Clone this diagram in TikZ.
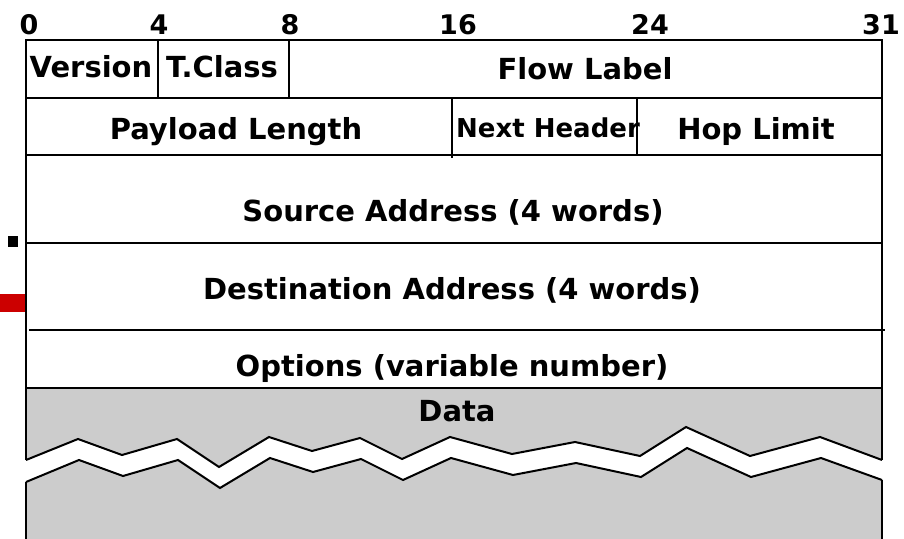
\documentclass[tikz,border=0pt]{standalone}
\usepackage{fontspec}
\setmainfont{DejaVu Sans}
\definecolor{datagray}{RGB}{204,204,204}
\definecolor{markred}{RGB}{204,0,0}
\begin{document}
\begin{tikzpicture}[x=0.5pt,y=-0.5pt,
  frame/.style={line width=1pt,black},
  lbl/.style={anchor=base,inner sep=0pt,font=\fontsize{14.5pt}{16pt}\selectfont\bfseries},
  small/.style={anchor=base,inner sep=0pt,font=\fontsize{13pt}{15pt}\selectfont\bfseries},
  num/.style={anchor=base,inner sep=0pt,font=\fontsize{13.5pt}{15pt}\selectfont\bfseries}]
\useasboundingbox (0,0) rectangle (904,539);
% markers at left
\fill[black] (8,236) rectangle (18,247);
\fill[markred] (0,294) rectangle (26,312);
% data area fill
\fill[datagray] (26,388) -- (882,388) -- (882,460) -- (820,437) -- (750,456) -- (686,427) -- (640,456) -- (575,442) -- (512,454) -- (450,437) -- (402,459) -- (360,438) -- (312,451) -- (269,437) -- (219,467) -- (177,439) -- (122,455) -- (78,439) -- (26,460) -- cycle;
\fill[datagray] (26,482) -- (79,460) -- (123,476) -- (178,460) -- (220,488) -- (270,458) -- (313,472) -- (361,459) -- (403,480) -- (451,458) -- (513,475) -- (576,463) -- (641,477) -- (687,448) -- (751,477) -- (821,458) -- (882,480) -- (882,545) -- (26,545) -- cycle;
% zigzag lines
\draw[frame,line join=miter] (26,460) -- (78,439) -- (122,455) -- (177,439) -- (219,467) -- (269,437) -- (312,451) -- (360,438) -- (402,459) -- (450,437) -- (512,454) -- (575,442) -- (640,456) -- (686,427) -- (750,456) -- (820,437) -- (882,460);
\draw[frame,line join=miter] (26,482) -- (79,460) -- (123,476) -- (178,460) -- (220,488) -- (270,458) -- (313,472) -- (361,459) -- (403,480) -- (451,458) -- (513,475) -- (576,463) -- (641,477) -- (687,448) -- (751,477) -- (821,458) -- (882,480);
% outer frame
\draw[frame] (26,460) -- (26,40) -- (882,40) -- (882,460);
\draw[frame] (26,482) -- (26,545);
\draw[frame] (882,480) -- (882,545);
% horizontal rules
\draw[frame] (26,98) -- (882,98);
\draw[frame] (26,155) -- (882,155);
\draw[frame] (26,243) -- (882,243);
\draw[frame] (29,330) -- (885,330);
\draw[frame] (26,388) -- (882,388);
% vertical dividers
\draw[frame] (158,40) -- (158,98);
\draw[frame] (289,40) -- (289,98);
\draw[frame] (452,98) -- (452,158);
\draw[frame] (637,98) -- (637,155);
% bit numbers
\node[num] (n0) at (29,35) {0};
\node[num] (n4) at (159,35) {4};
\node[num] (n8) at (290,35) {8};
\node[num] (n16) at (458,35) {16};
\node[num] (n24) at (650,35) {24};
\node[num] (n31) at (881,35) {31};
% field labels
\node[lbl] (ver) at (91,78) {Version};
\node[lbl] (tcl) at (222,78) {T.Class};
\node[lbl] (flow) at (585,80) {Flow Label};
\node[lbl] (pay) at (236,140) {Payload Length};
\node[small] (nxt) at (548,138) {Next Header};
\node[lbl] (hop) at (756,140) {Hop Limit};
\node[lbl] (src) at (453,222) {Source Address (4 words)};
\node[lbl] (dst) at (452,300) {Destination Address (4 words)};
\node[lbl] (opt) at (452,377) {Options (variable number)};
\node[lbl] (dat) at (457,422) {Data};
\end{tikzpicture}
\end{document}
